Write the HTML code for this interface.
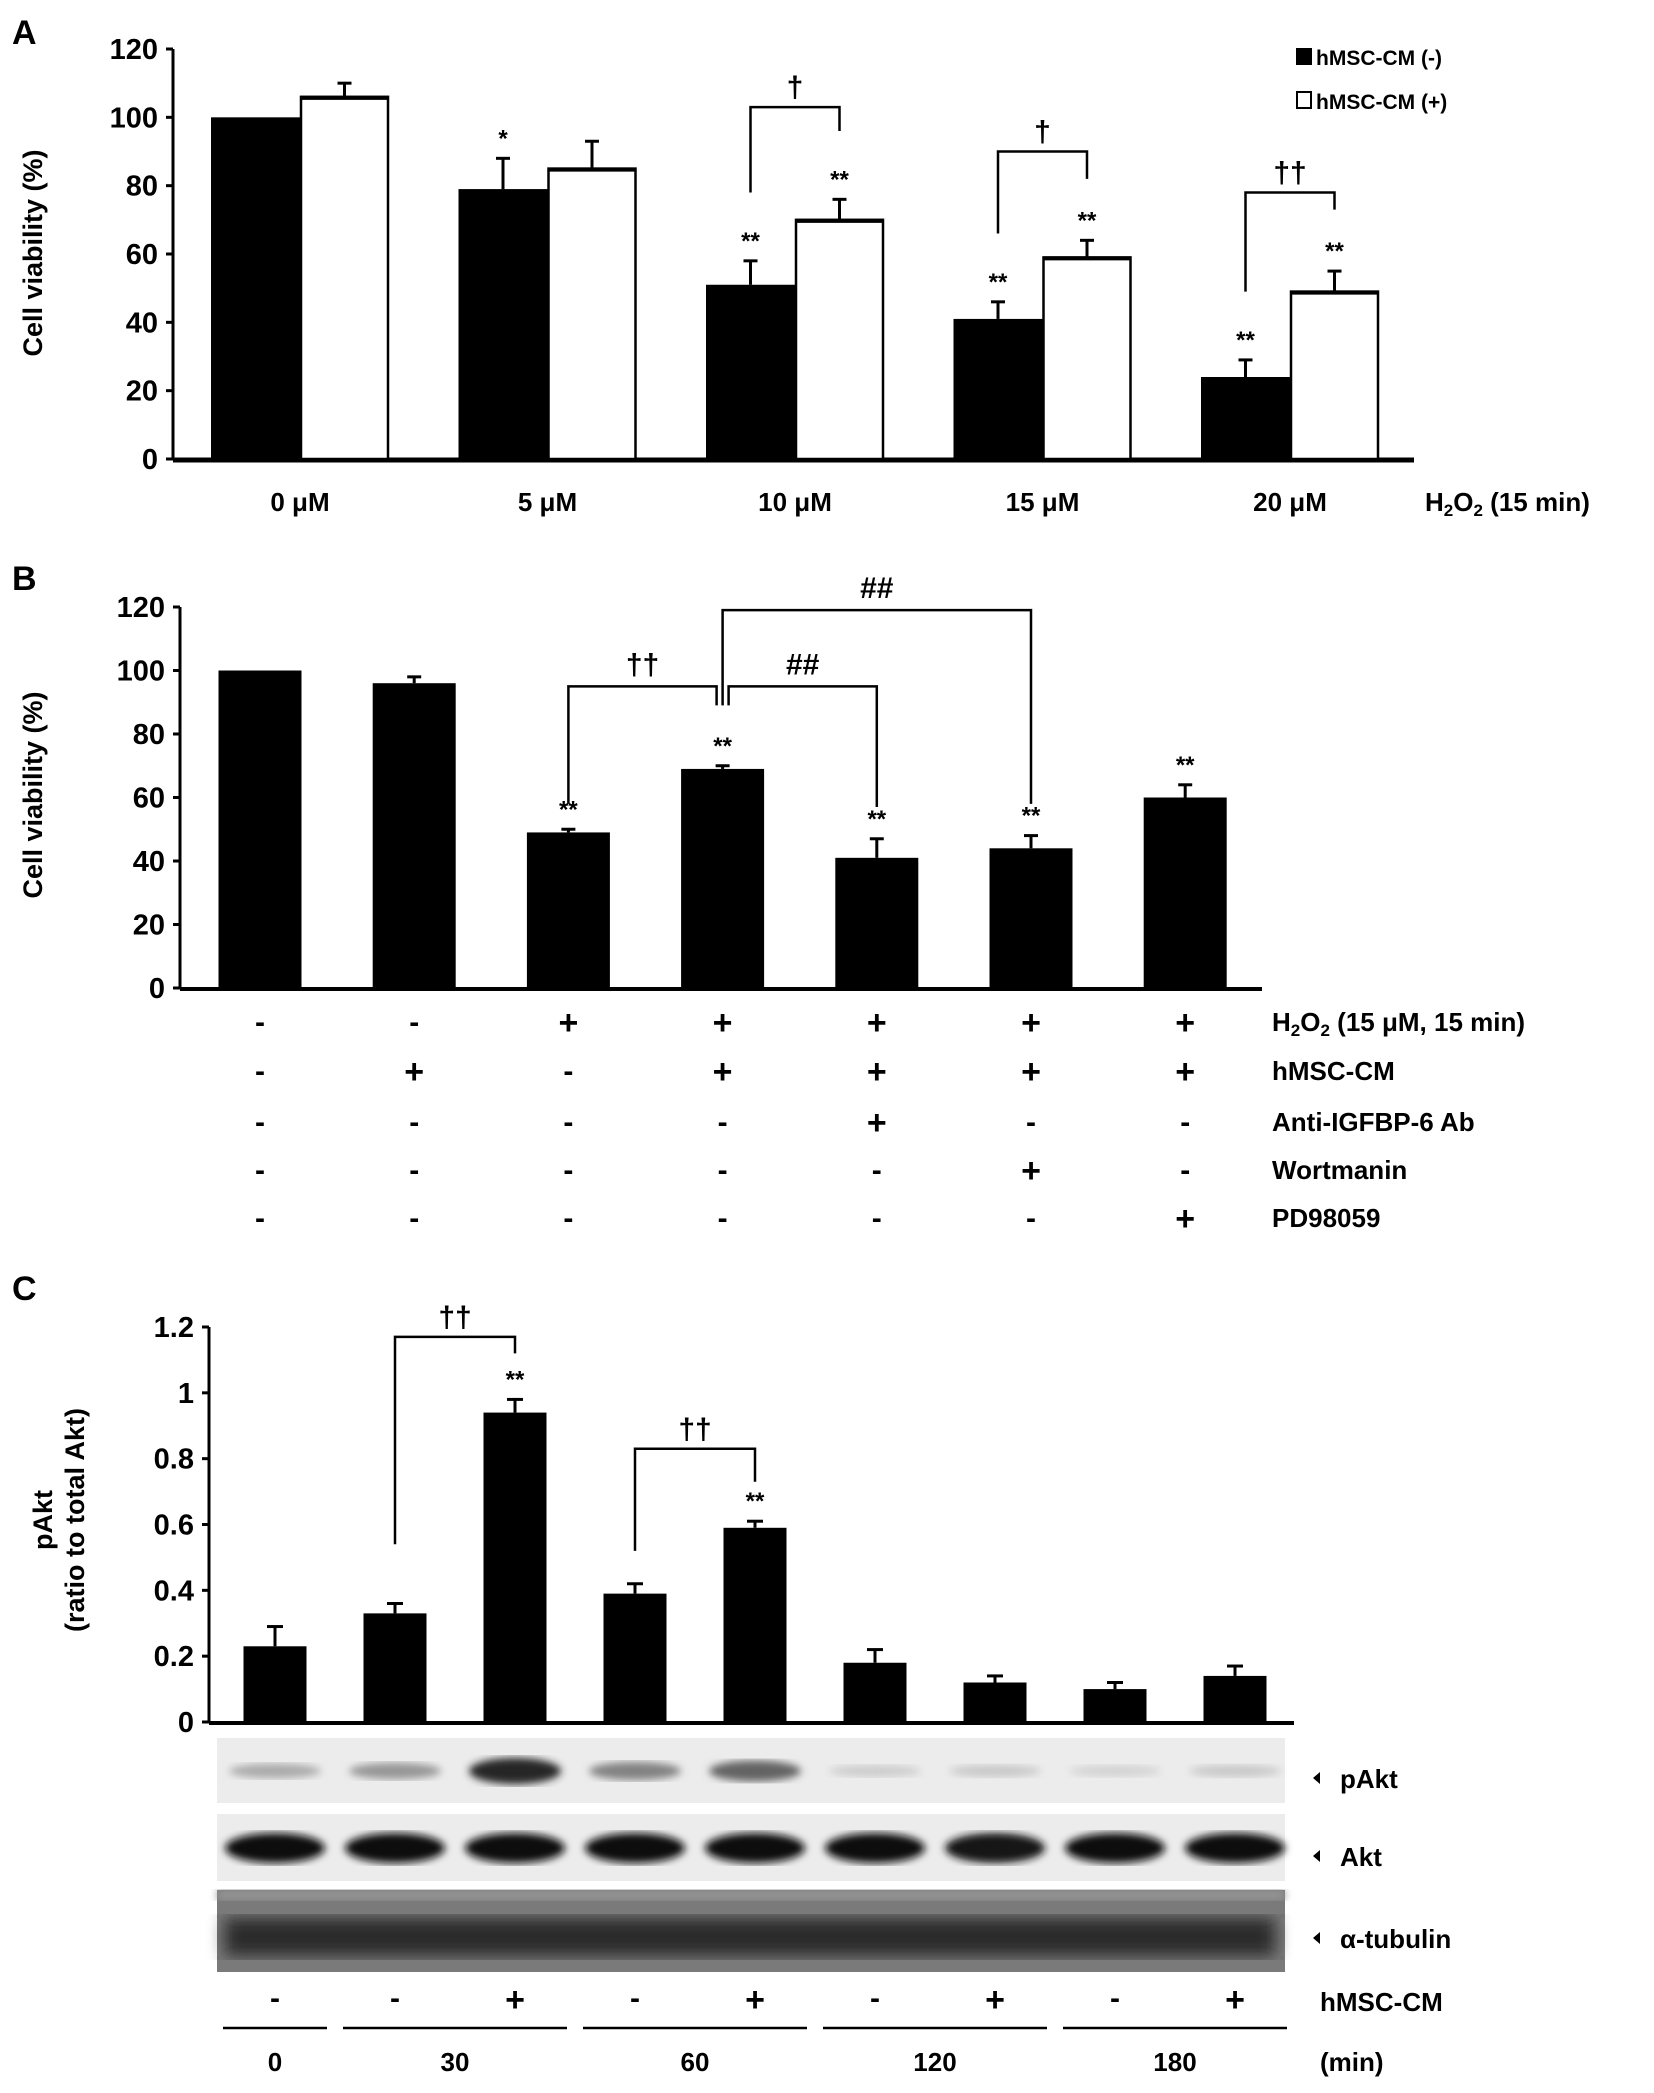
<!DOCTYPE html>
<html><head><meta charset="utf-8">
<style>
html,body{margin:0;padding:0;background:#fff;}
svg{display:block;}
text{font-family:"Liberation Sans",Arial,sans-serif;font-weight:bold;fill:#000;}
</style></head>
<body>
<svg id="fig" width="1654" height="2093" viewBox="0 0 1654 2093" xmlns="http://www.w3.org/2000/svg">
<defs>
<filter id="blur3"><feGaussianBlur stdDeviation="4"/></filter>
<filter id="blur6"><feGaussianBlur stdDeviation="8"/></filter>
</defs>
<g id="pa"></g>
<g id="pb"></g>
<g id="pc"></g>
</svg>
<script>
// Panel A data
const aCats = ["0 μM","5 μM","10 μM","15 μM","20 μM"];
const aNeg = [100,79,51,41,24];
const aNegErr = [0,9,7,5,5];
const aPos = [106,85,70,59,49];
const aPosErr = [4,8,6,5,6];
const aNegSig = ["","*","**","**","**"];
const aPosSig = ["","","**","**","**"];
const aTicks = [0,20,40,60,80,100,120];
// Panel B data
const bVals = [100,96,49,69,41,44,60];
const bErr = [0,2,1,1,6,4,4];
const bSig = ["","","**","**","**","**","**"];
const bTicks = [0,20,40,60,80,100,120];
const bRowLabels = ["H₂O₂ (15 μM, 15 min)","hMSC-CM","Anti-IGFBP-6 Ab","Wortmanin","PD98059"];
const bRows = [
 ["-","-","+","+","+","+","+"],
 ["-","+","-","+","+","+","+"],
 ["-","-","-","-","+","-","-"],
 ["-","-","-","-","-","+","-"],
 ["-","-","-","-","-","-","+"]];
// Panel C data
const cVals = [0.23,0.33,0.94,0.39,0.59,0.18,0.12,0.10,0.14];
const cErr = [0.06,0.03,0.04,0.03,0.02,0.04,0.02,0.02,0.03];
const cSig = ["","","**","","**","","","",""];
const cTicks = [0,0.2,0.4,0.6,0.8,1,1.2];
const cTickLabels = ["0","0.2","0.4","0.6","0.8","1","1.2"];
const cCM = ["-","-","+","-","+","-","+","-","+"];
const cTimes = ["0","30","60","120","180"];
const pAktInt = [0.25,0.35,0.9,0.45,0.6,0.08,0.1,0.05,0.1];
const aktInt = [0.95,0.9,0.95,0.9,0.95,0.9,0.85,1,0.95];

const NS="http://www.w3.org/2000/svg";
function el(parent,tag,attrs,txt){const e=document.createElementNS(NS,tag);for(const k in attrs)e.setAttribute(k,attrs[k]);if(txt!==undefined)e.textContent=txt;parent.appendChild(e);return e;}
function line(p,x1,y1,x2,y2,w){return el(p,"line",{x1,y1,x2,y2,stroke:"#000","stroke-width":w||2});}

// ---------- Panel A ----------
const A=document.getElementById("pa");
const aY=v=>459-v*(410/120);
const aX0=173, aXend=1414;
const aCenter=i=>300+i*247.5;
const aBW=89;
let t=el(A,"text",{x:12,y:44,"font-size":34});t.textContent="A";

line(A,aX0,aY(0),aX0,aY(120),3);
line(A,aX0,aY(0)+1,aXend,aY(0)+1,5);
aTicks.forEach(v=>{line(A,aX0-7,aY(v),aX0,aY(v),3);
 const tt=el(A,"text",{x:aX0-15,y:aY(v)+10,"font-size":29,"text-anchor":"end"},String(v));
 });
t=el(A,"text",{transform:"translate(42,253) rotate(-90)","font-size":27,"text-anchor":"middle"},"Cell viability (%)");

aCats.forEach((c,i)=>{
 const cx=aCenter(i);
 const x1=cx-aBW, x2=cx;
 let b=el(A,"rect",{x:x1,y:aY(aNeg[i]),width:aBW,height:aY(0)-aY(aNeg[i]),fill:"#000"});
 
 if(aNegErr[i]>0){line(A,x1+aBW/2,aY(aNeg[i]),x1+aBW/2,aY(aNeg[i]+aNegErr[i]),3);line(A,x1+aBW/2-7,aY(aNeg[i]+aNegErr[i]),x1+aBW/2+7,aY(aNeg[i]+aNegErr[i]),3);}
 b=el(A,"rect",{x:x2+1,y:aY(aPos[i]),width:aBW-2,height:aY(0)-aY(aPos[i]),fill:"#fff",stroke:"#000","stroke-width":2.5});
 
 line(A,x2+1,aY(aPos[i])+1,x2+aBW,aY(aPos[i])+1,4);
 line(A,x2+aBW/2,aY(aPos[i]),x2+aBW/2,aY(aPos[i]+aPosErr[i]),3);line(A,x2+aBW/2-7,aY(aPos[i]+aPosErr[i]),x2+aBW/2+7,aY(aPos[i]+aPosErr[i]),3);
 if(aNegSig[i]){const s=el(A,"text",{x:x1+aBW/2,y:aY(aNeg[i]+aNegErr[i])-12,"font-size":24,"text-anchor":"middle"},aNegSig[i]);}
 if(aPosSig[i]){const s=el(A,"text",{x:x2+aBW/2,y:aY(aPos[i]+aPosErr[i])-12,"font-size":24,"text-anchor":"middle"},aPosSig[i]);}
 const l=el(A,"text",{x:cx,y:511,"font-size":26,"text-anchor":"middle"},c);
 
});
t=el(A,"text",{x:1425,y:511,"font-size":26},"");
t.innerHTML='H<tspan font-size="17" dy="5">2</tspan><tspan dy="-5">O</tspan><tspan font-size="17" dy="5">2</tspan><tspan dy="-5"> (15 min)</tspan>';

const aBr=[[2,103,78,96,"†"],[3,90,66,82,"†"],[4,78,49,73,"††"]];
aBr.forEach(br=>{const i=br[0];const xl=aCenter(i)-aBW/2,xr=aCenter(i)+aBW/2;
 const g=el(A,"g",{});
 el(g,"polyline",{points:`${xl},${aY(br[2])} ${xl},${aY(br[1])} ${xr},${aY(br[1])} ${xr},${aY(br[3])}`,fill:"none",stroke:"#000","stroke-width":2.5});
 el(g,"text",{x:(xl+xr)/2,y:aY(br[1])-10,"font-size":30,"text-anchor":"middle"},br[4]);});
let lg=el(A,"g",{});
el(lg,"rect",{x:1296,y:48,width:16,height:17,fill:"#000"});
el(lg,"text",{x:1316,y:65,"font-size":21},"hMSC-CM (-)");
el(lg,"rect",{x:1297,y:92,width:14,height:16,fill:"#fff",stroke:"#000","stroke-width":2});
el(lg,"text",{x:1316,y:109,"font-size":21},"hMSC-CM (+)");

// ---------- Panel B ----------
const B=document.getElementById("pb");
const bY=v=>988-v*(381/120);
const bX0=180,bXend=1262,bBW=83;
const bCenter=i=>260+i*154.2;
t=el(B,"text",{x:12,y:590,"font-size":34},"B");
line(B,bX0,bY(0),bX0,bY(120),3);
line(B,bX0,bY(0)+1,bXend,bY(0)+1,4);
bTicks.forEach(v=>{line(B,bX0-7,bY(v),bX0,bY(v),3);
 const tt=el(B,"text",{x:bX0-15,y:bY(v)+10,"font-size":29,"text-anchor":"end"},String(v));
 });
t=el(B,"text",{transform:"translate(42,795) rotate(-90)","font-size":27,"text-anchor":"middle"},"Cell viability (%)");

bVals.forEach((v,i)=>{const cx=bCenter(i);
 const b=el(B,"rect",{x:cx-bBW/2,y:bY(v),width:bBW,height:bY(0)-bY(v),fill:"#000"});
 
 if(bErr[i]>0){line(B,cx,bY(v),cx,bY(v+bErr[i]),3);line(B,cx-7,bY(v+bErr[i]),cx+7,bY(v+bErr[i]),3);}
 if(bSig[i]){const s=el(B,"text",{x:cx,y:bY(v+bErr[i])-12,"font-size":24,"text-anchor":"middle"},bSig[i]);}
});
const bBr=[[2,3,95,58,89,"††",-6],[3,4,95,89,57,"##",6],[3,5,119,89,58,"##",0]];
bBr.forEach(br=>{const xl=bCenter(br[0])+(br[6]>0?br[6]:0),xr=bCenter(br[1])+(br[6]<0?br[6]:0);
 const g=el(B,"g",{});
 el(g,"polyline",{points:`${xl},${bY(br[3])} ${xl},${bY(br[2])} ${xr},${bY(br[2])} ${xr},${bY(br[4])}`,fill:"none",stroke:"#000","stroke-width":2.5});
 el(g,"text",{x:(xl+xr)/2,y:bY(br[2])-12,"font-size":30,"text-anchor":"middle"},br[5]);});
const bRowY=[1034,1083,1134,1182,1230];
bRows.forEach((row,r)=>{row.forEach((s,i)=>{
 const tt=el(B,"text",{x:bCenter(i),y:bRowY[r]-(s==="+"?0:2),"font-size":s==="+"?34:30,"text-anchor":"middle"},s==="+"?"+":"-");
 });
 const lab=el(B,"text",{x:1272,y:bRowY[r]-3,"font-size":26},"");
 if(r===0){lab.innerHTML='H<tspan font-size="17" dy="5">2</tspan><tspan dy="-5">O</tspan><tspan font-size="17" dy="5">2</tspan><tspan dy="-5"> (15 μM, 15 min)</tspan>';}
 else lab.textContent=bRowLabels[r];
 
});

// ---------- Panel C ----------
const C=document.getElementById("pc");
const cY=v=>1722-v*(395/1.2);
const cX0=209,cXend=1294,cBW=63;
const cCenter=i=>275+i*120;
t=el(C,"text",{x:12,y:1300,"font-size":34},"C");
line(C,cX0,cY(0),cX0,cY(1.2),3);
line(C,cX0,cY(0)+1,cXend,cY(0)+1,4);
cTicks.forEach((v,k)=>{line(C,cX0-7,cY(v),cX0,cY(v),3);
 const tt=el(C,"text",{x:cX0-15,y:cY(v)+10,"font-size":29,"text-anchor":"end"},cTickLabels[k]);
 });
t=el(C,"text",{transform:"translate(52,1520) rotate(-90)","font-size":27,"text-anchor":"middle"},"pAkt");

t=el(C,"text",{transform:"translate(84,1520) rotate(-90)","font-size":27,"text-anchor":"middle"},"(ratio to total Akt)");

cVals.forEach((v,i)=>{const cx=cCenter(i);
 const b=el(C,"rect",{x:cx-cBW/2,y:cY(v),width:cBW,height:cY(0)-cY(v),fill:"#000"});
 
 line(C,cx,cY(v),cx,cY(v+cErr[i]),3);line(C,cx-8,cY(v+cErr[i]),cx+8,cY(v+cErr[i]),3);
 if(cSig[i]){const s=el(C,"text",{x:cx,y:cY(v+cErr[i])-12,"font-size":24,"text-anchor":"middle"},cSig[i]);}
});
const cBr=[[1,2,1.17,0.54,1.17,"††"],[3,4,0.83,0.52,0.78,"††"]];
cBr.forEach(br=>{const xl=cCenter(br[0]),xr=cCenter(br[1]);
 const g=el(C,"g",{});
 el(g,"polyline",{points:`${xl},${cY(br[3])} ${xl},${cY(br[2])} ${xr},${cY(br[2])} ${xr},${cY(br[4]-0.05)}`,fill:"none",stroke:"#000","stroke-width":2.5});
 el(g,"text",{x:(xl+xr)/2,y:cY(br[2])-10,"font-size":30,"text-anchor":"middle"},br[5]);});
function strip(y,h,bg,name){const g=el(C,"g",{});
 el(g,"rect",{x:217,y:y,width:1068,height:h,fill:bg});return g;}
let g1=strip(1738,65,"#ececec","blot-pakt");
pAktInt.forEach((v,i)=>{const c=Math.round(220-200*v);el(g1,"ellipse",{cx:cCenter(i),cy:1771,rx:46,ry:5+9*v,fill:`rgb(${c},${c},${c})`,filter:"url(#blur3)"});});
let g2=strip(1814,67,"#ececec","blot-akt");
aktInt.forEach((v,i)=>{const c=Math.round(60-50*v);el(g2,"ellipse",{cx:cCenter(i),cy:1848,rx:50,ry:15,fill:`rgb(${c},${c},${c})`,filter:"url(#blur3)"});});
let g3=strip(1890,82,"#7a7a7a","blot-tubulin");
el(g3,"rect",{x:225,y:1918,width:1050,height:38,fill:"#2a2a2a",filter:"url(#blur6)"});
el(g3,"rect",{x:217,y:1890,width:1068,height:10,fill:"#959595",filter:"url(#blur3)"});
const blotLabels=[["pAkt",1780],["Akt",1858],["α-tubulin",1940]];
blotLabels.forEach(b=>{const g=el(C,"g",{});
 el(g,"polygon",{points:`1320,${b[1]-8} 1320,${b[1]+4} 1313,${b[1]-2}`,fill:"#000"});
 el(g,"text",{x:1340,y:b[1]+8,"font-size":26},b[0]);});
cCM.forEach((s,i)=>{const tt=el(C,"text",{x:cCenter(i),y:s==="+"?2011:2008,"font-size":s==="+"?34:30,"text-anchor":"middle"},s);
 });
t=el(C,"text",{x:1320,y:2011,"font-size":26},"hMSC-CM");
const tGroups=[[0,0],[1,2],[3,4],[5,6],[7,8]];
tGroups.forEach((gp,k)=>{const xl=cCenter(gp[0])-52,xr=cCenter(gp[1])+52;
 line(C,xl,2028,xr,2028,2.5);
 const tt=el(C,"text",{x:(cCenter(gp[0])+cCenter(gp[1]))/2,y:2071,"font-size":26,"text-anchor":"middle"},cTimes[k]);
 });
t=el(C,"text",{x:1320,y:2071,"font-size":26},"(min)");
</script>
</body></html>
